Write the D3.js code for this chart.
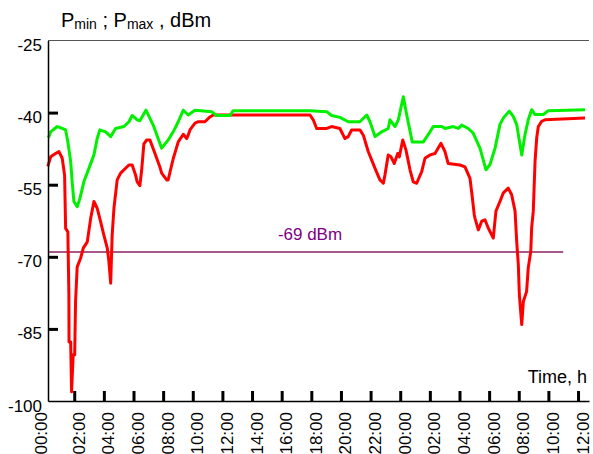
<!DOCTYPE html>
<html>
<head>
<meta charset="utf-8">
<script src="https://cdn.jsdelivr.net/npm/d3@7"></script>
<style>
  html, body { margin: 0; padding: 0; background: #fff; }
  svg { display: block; font-family: "Liberation Sans", Arial, sans-serif; }
</style>
</head>
<body>
<svg id="chart" width="593" height="454"></svg>
<script>
// ---- data (hours from 00:00 of day 1, dBm) ----
const pmaxHours = [0.22,0.29,0.41,0.85,1.19,1.42,1.57,1.76,1.86,1.98,2.20,2.38,2.65,2.99,3.33,3.55,3.73,4.12,4.46,4.79,5.35,5.69,5.91,6.25,6.43,6.84,7.33,7.90,8.34,8.68,9.02,9.36,9.69,10.15,11.27,11.61,12.51,12.73,17.91,19.04,19.37,19.93,20.49,21.28,21.74,21.96,22.30,22.75,23.19,23.31,23.65,23.87,24.21,24.44,24.81,25.56,26.01,26.23,26.80,27.02,27.58,27.92,28.15,28.59,28.93,29.38,29.79,30.06,30.40,30.73,30.96,31.36,31.63,31.86,32.20,32.42,32.64,32.87,33.10,33.66,33.99,36.47];
const pmaxValues = [-45.2,-45.0,-44.0,-42.9,-43.3,-43.6,-46.1,-50.2,-54.4,-58.5,-59.6,-57.9,-54.4,-51.6,-48.8,-45.4,-43.6,-44.0,-45.0,-43.3,-42.9,-41.9,-40.6,-41.5,-41.7,-39.5,-42.6,-47.4,-45.7,-44.0,-41.9,-39.5,-40.5,-39.5,-39.8,-40.6,-40.6,-39.6,-39.6,-39.8,-40.6,-41.0,-41.9,-41.9,-40.5,-41.9,-45.0,-44.0,-43.3,-41.5,-42.9,-41.5,-36.7,-40.5,-46.1,-46.1,-44.0,-42.9,-42.9,-43.3,-42.9,-43.3,-42.6,-43.3,-44.3,-47.4,-51.9,-50.8,-47.4,-42.5,-41.1,-39.7,-40.8,-42.5,-48.8,-44.6,-41.5,-39.4,-40.4,-40.4,-39.6,-39.4];

const pminHours = [0.22,0.41,0.74,0.97,1.19,1.35,1.42,1.57,1.64,1.65,1.76,1.82,1.93,2.03,2.09,2.20,2.43,2.61,2.88,3.11,3.33,3.55,3.78,4.00,4.23,4.34,4.46,4.56,4.68,4.90,5.13,5.69,5.91,6.14,6.25,6.43,6.55,6.70,6.89,7.11,7.45,7.78,7.90,8.24,8.34,8.68,9.02,9.36,9.59,9.69,9.81,10.15,10.37,10.82,11.16,11.38,12.62,17.91,18.13,18.36,19.04,19.37,19.93,20.27,20.49,20.72,21.28,21.51,21.84,22.30,22.63,22.86,22.97,23.19,23.38,23.60,23.83,23.94,24.17,24.39,24.66,24.88,25.11,25.45,25.67,26.01,26.35,26.75,27.02,27.24,28.03,28.37,28.71,28.86,29.00,29.05,29.27,29.50,29.72,29.94,30.28,30.46,30.73,30.96,31.29,31.52,31.75,31.86,31.97,32.04,32.20,32.31,32.53,32.64,32.81,32.87,32.98,33.10,33.21,33.32,33.55,33.77,36.47];
const pminValues = [-51.2,-49.2,-48.5,-48.1,-49.5,-53.0,-64.1,-64.8,-78.0,-87.7,-87.7,-98.1,-90.4,-90.4,-79.3,-72.1,-70.3,-68.2,-66.9,-62.0,-58.5,-59.9,-62.7,-65.5,-68.2,-71.0,-75.5,-65.5,-59.9,-54.0,-52.6,-50.9,-50.9,-53.0,-54.4,-55.2,-52.0,-46.5,-45.7,-45.7,-48.5,-51.3,-52.6,-54.0,-54.0,-49.6,-46.1,-44.5,-45.4,-44.7,-43.6,-42.2,-41.9,-41.9,-40.9,-40.5,-40.5,-40.5,-41.5,-43.3,-43.3,-42.9,-43.3,-45.4,-45.0,-43.6,-43.6,-44.7,-48.1,-51.6,-54.0,-54.7,-53.0,-48.8,-49.2,-50.6,-48.5,-49.2,-45.7,-47.8,-51.9,-54.4,-54.7,-52.3,-49.5,-48.8,-48.5,-46.4,-48.1,-50.6,-50.9,-51.3,-53.7,-57.5,-61.3,-62.0,-64.4,-62.6,-62.3,-64.0,-66.1,-60.5,-58.5,-56.7,-55.7,-57.1,-60.5,-66.8,-71.6,-77.9,-84.1,-79.3,-77.2,-72.3,-68.9,-64.0,-60.5,-50.1,-45.3,-42.9,-41.8,-41.5,-41.1];

const yTicks = [-25, -40, -55, -70, -85, -100];
const yTickLabels = ["-25", "-40", "-55", "-70", "-85", "-100"];
const xTickHours = [0,2,4,6,8,10,12,14,16,18,20,22,24,26,28,30,32,34,36];
const xTickLabels = ["00:00","02:00","04:00","06:00","08:00","10:00","12:00","14:00","16:00","18:00","20:00","22:00","00:00","02:00","04:00","06:00","08:00","10:00","12:00"];
const thresholdValue = -69;
const thresholdLabel = "-69 dBm";
const thresholdEndHour = 35.0;
const xAxisHours = [0.23, 36.74];

// ---- layout ----
const svg = d3.select("#chart");
const x = d3.scaleLinear().domain(xAxisHours).range([48, 589]);
const y = d3.scaleLinear().domain([-100, -25]).range([401, 40.5]);

// top border
svg.append("line")
  .attr("x1", x(xAxisHours[0])).attr("x2", x(xAxisHours[1]))
  .attr("y1", y(-25)).attr("y2", y(-25))
  .attr("stroke", "#555").attr("stroke-width", 1);

// threshold line
svg.append("line")
  .attr("x1", x(xAxisHours[0])).attr("x2", x(thresholdEndHour))
  .attr("y1", y(thresholdValue)).attr("y2", y(thresholdValue))
  .attr("stroke", "#8b2262").attr("stroke-width", 1.6);

svg.append("text")
  .attr("x", 310).attr("y", y(thresholdValue) - 12)
  .attr("text-anchor", "middle")
  .attr("fill", "#800080")
  .attr("font-size", 17)
  .text(thresholdLabel);

// series
const pmin = pminHours.map((h, i) => [h, pminValues[i]]);
const pmax = pmaxHours.map((h, i) => [h, pmaxValues[i]]);
const line = d3.line().x(d => x(d[0])).y(d => y(d[1]));

svg.append("path").datum(pmin)
  .attr("d", line).attr("fill", "none")
  .attr("stroke", "#ff0000").attr("stroke-width", 3)
  .attr("stroke-linejoin", "round");
svg.append("path").datum(pmax)
  .attr("d", line).attr("fill", "none")
  .attr("stroke", "#00f000").attr("stroke-width", 3)
  .attr("stroke-linejoin", "round");

// y axis
const yAxis = svg.append("g")
  .attr("transform", `translate(${x(xAxisHours[0])},0)`)
  .call(d3.axisLeft(y).tickValues(yTicks).tickSizeInner(-10).tickSizeOuter(0).tickPadding(6)
    .tickFormat(d => yTickLabels[yTicks.indexOf(d)]));
yAxis.select(".domain").attr("stroke", "#000").attr("stroke-width", 1.5);
yAxis.selectAll(".tick line").attr("stroke", "#000").attr("stroke-width", 3)
  .attr("display", d => (d === -25 || d === -100) ? "none" : null);
yAxis.selectAll(".tick text")
  .attr("font-size", 17).attr("font-family", "Liberation Sans, Arial, sans-serif")
  .attr("fill", "#000").attr("dy", null).attr("y", 10).attr("x", -6);

// x axis
const xAxis = svg.append("g")
  .attr("transform", `translate(0,${y(-100)})`)
  .call(d3.axisBottom(x).tickValues(xTickHours.filter(h => h > 0)).tickSizeInner(-10).tickSizeOuter(0).tickFormat(""));
xAxis.select(".domain").attr("stroke", "#000").attr("stroke-width", 1.5);
xAxis.selectAll(".tick line").attr("stroke", "#000").attr("stroke-width", 3);

svg.append("g").selectAll("text")
  .data(xTickHours)
  .join("text")
  .attr("transform", (d, i) => {
    const bx = i === 0 ? x(xAxisHours[0]) - 1.3 : x(d) + 10.5;
    return `translate(${bx},${y(-100) + 11}) rotate(-90)`;
  })
  .attr("text-anchor", "end")
  .attr("font-size", 17)
  .attr("fill", "#000")
  .text((d, i) => xTickLabels[i]);

// titles
const title = svg.append("text").attr("x", 61).attr("y", 27).attr("font-size", 20).attr("fill", "#000");
title.append("tspan").text("P");
title.append("tspan").attr("font-size", 14).attr("dy", 2).text("min");
title.append("tspan").attr("dy", -2).text(" ; P");
title.append("tspan").attr("font-size", 14).attr("dy", 2).text("max");
title.append("tspan").attr("dy", -2).text(" , dBm");

svg.append("text")
  .attr("x", 587).attr("y", 383)
  .attr("text-anchor", "end")
  .attr("font-size", 18)
  .attr("fill", "#000")
  .text("Time, h");
</script>
</body>
</html>
